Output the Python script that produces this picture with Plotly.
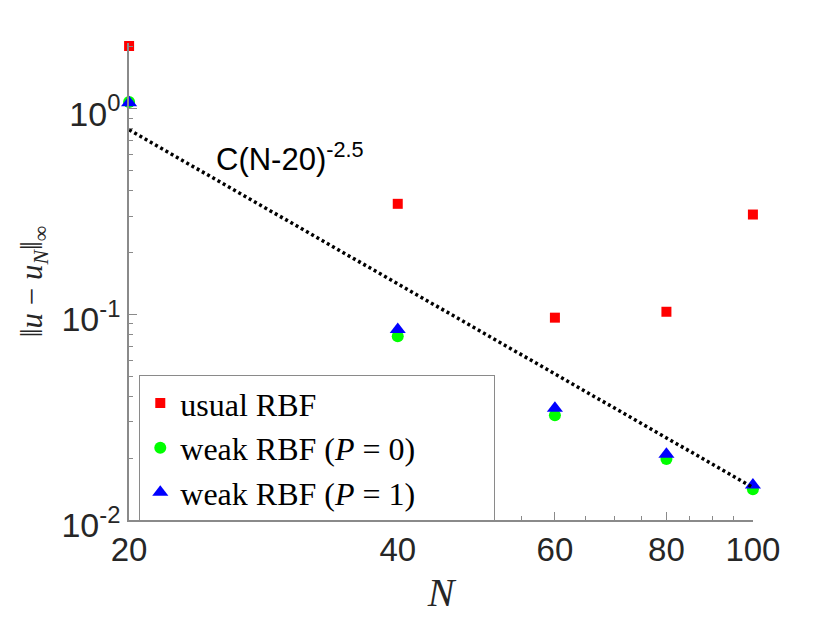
import math
import plotly.graph_objects as go

# problem sizes
N = [20, 40, 60, 80, 100]

# max-norm errors
err_usual = [2.02, 0.345, 0.0964, 0.103, 0.306]
err_weak_p0 = [1.08, 0.0782, 0.0323, 0.0198, 0.0141]
err_weak_p1 = [1.07, 0.0845, 0.0350, 0.0209, 0.0148]

# reference rate line C(N-20)^-2.5 (end points)
rate_N = [20, 100]
rate_err = [0.79, 0.0144]

x_ticks = [20, 40, 60, 80, 100]
x_labels = ["20", "40", "60", "80", "100"]
y_ticks = [0.01, 0.1, 1]
y_labels = ["10<sup>-2</sup>", "10<sup>-1</sup>", "10<sup>0</sup>"]

axis_grey = "#8a8a8a"
label_col = "#262626"
sans = "Liberation Sans"
serif = "Liberation Serif"

fig = go.Figure()
fig.add_trace(go.Scatter(x=N, y=err_usual, mode="markers", name="usual RBF",
                         marker=dict(symbol="square", size=10, color="#ff0000"),
                         cliponaxis=False))
fig.add_trace(go.Scatter(x=N, y=err_weak_p0, mode="markers", name="weak RBF (<i>P</i> = 0)",
                         marker=dict(symbol="circle", size=12, color="#00ff00"),
                         cliponaxis=False))
fig.add_trace(go.Scatter(x=N, y=err_weak_p1, mode="markers", name="weak RBF (<i>P</i> = 1)",
                         marker=dict(symbol="triangle-up", size=14, color="#0000ff"),
                         cliponaxis=False))
fig.add_trace(go.Scatter(x=rate_N, y=rate_err, mode="lines", showlegend=False,
                         line=dict(color="black", width=3.5, dash="3px,3px"),
                         cliponaxis=False))

fig.add_annotation(x=0.136, y=0.762, xref="paper", yref="paper",
                   xanchor="left", yanchor="middle", showarrow=False,
                   text="C(N-20)<sup>-2.5</sup>",
                   font=dict(family=sans, size=31, color="black"))

x_minor = [25, 30, 35, 45, 50, 55, 65, 70, 75, 85, 90, 95]
y_minor = [k * 10.0 ** e for e in (-2, -1, 0) for k in range(2, 10)]

# page body adds ~8px, so margins are shifted to keep the plot box in place
fig.update_layout(
    width=830, height=623,
    margin=dict(l=121, r=85, t=35, b=111),
    plot_bgcolor="white", paper_bgcolor="white",
    xaxis=dict(type="log", range=[math.log10(20) - 1e-4, 2.0 + 1e-4],
               automargin=False,
               tickmode="array", tickvals=x_ticks, ticktext=x_labels,
               ticks="inside", ticklen=8, tickwidth=1.2, tickcolor=axis_grey,
               showline=True, linecolor=axis_grey, linewidth=1.5,
               showgrid=False, zeroline=False,
               tickfont=dict(family=sans, size=33, color=label_col),
               minor=dict(tickmode="array", tickvals=x_minor, ticks="inside",
                          ticklen=4, tickcolor=axis_grey, showgrid=False),
               title=dict(text="<i>N</i>", standoff=11,
                          font=dict(family=serif, size=40, color=label_col))),
    yaxis=dict(type="log", range=[-2.0, 0.32],
               automargin=False,
               tickmode="array", tickvals=y_ticks, ticktext=y_labels,
               ticks="inside", ticklen=8, tickwidth=1.2, tickcolor=axis_grey,
               showline=True, linecolor=axis_grey, linewidth=1.5,
               showgrid=False, zeroline=False, ticklabelshift=5,
               tickfont=dict(family=sans, size=34, color=label_col),
               minor=dict(tickmode="array", tickvals=y_minor, ticks="inside",
                          ticklen=4, tickcolor=axis_grey, showgrid=False),
               title=dict(text="\u2016<i>u</i> \u2212 <i>u</i><sub><i>N</i></sub>\u2016<sub>\u221e</sub>",
                          standoff=10,
                          font=dict(family=serif, size=31, color=label_col))),
    legend=dict(x=0.016, y=0.305, xanchor="left", yanchor="top",
                orientation="h", entrywidthmode="pixels", entrywidth=308,
                bgcolor="white", bordercolor=axis_grey, borderwidth=1.3,
                font=dict(family=serif, size=32, color="black"),
                tracegroupgap=0),
    showlegend=True,
)

fig.write_html("out.html")
